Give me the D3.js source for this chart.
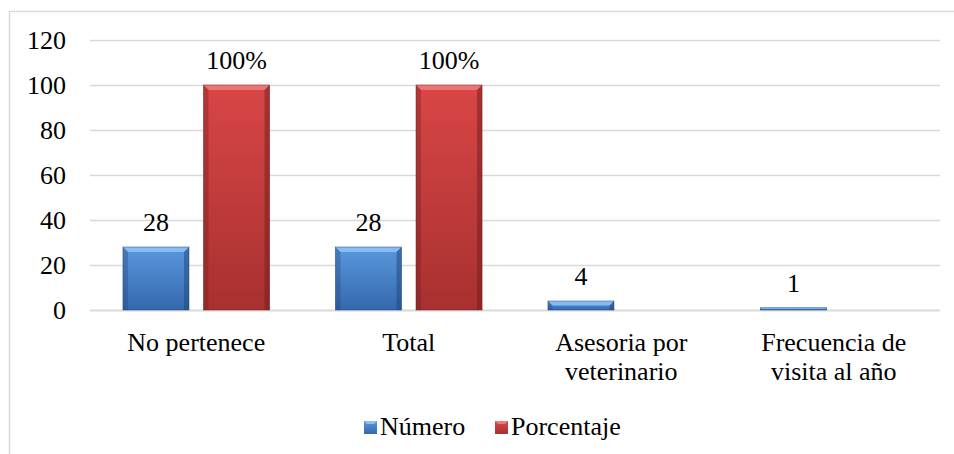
<!DOCTYPE html>
<html>
<head>
<meta charset="UTF-8">
<script src="https://d3js.org/d3.v7.min.js"></script>
</head>
<body style="margin:0">
<svg id="chart" width="954" height="454"></svg>
<script>
// data
var categories = [["No pertenece"], ["Total"], ["Asesoria por", "veterinario"], ["Frecuencia de", "visita al año"]];
var numero = [28, 28, 4, 1];
var porcentaje = [100, 100, null, null];
var seriesNames = ["Número", "Porcentaje"];
var yTicks = [0, 20, 40, 60, 80, 100, 120];

var FS = 26;

var svg = d3.select("#chart").style("font-family", "'Liberation Serif', Tinos, FreeSerif, serif");
var margin = {left: 90, right: 14, top: 40, bottom: 144};
var W = 954, H = 454;

var x = d3.scaleBand().domain(d3.range(categories.length))
  .range([margin.left, W - margin.right]).paddingInner(0.31).paddingOuter(0.155);
var xs = d3.scaleBand().domain([0, 1]).range([0, x.bandwidth()]).paddingInner(0.18);
var y = d3.scaleLinear().domain([0, 120]).range([H - margin.bottom, margin.top]);

function txt(sel){
  sel.style("font-family", "'Liberation Serif'").attr("font-size", FS);
}

// outer frame (runs off the right and bottom of the picture)
svg.append("rect").attr("x", 9.5).attr("y", 11.5).attr("width", 1000).attr("height", 500)
  .attr("fill", "none").attr("stroke", "#d9d9d9").attr("stroke-width", 1.5);

// gradients
var defs = svg.append("defs");
var cols = [
  {id: "gBlue", top: "#5b98de", bot: "#3468ad", light: "#8cc0f5", dark: "#1f4577"},
  {id: "gRed", top: "#d94646", bot: "#a83030", light: "#ec7a78", dark: "#6e1d1d"}
];
cols.forEach(function(c){
  var g = defs.append("linearGradient").attr("id", c.id).attr("x1", 0).attr("y1", 0).attr("x2", 0).attr("y2", 1);
  g.append("stop").attr("offset", "0%").attr("stop-color", c.top);
  g.append("stop").attr("offset", "100%").attr("stop-color", c.bot);
});

// gridlines
svg.append("g").selectAll("line").data(yTicks).enter().append("line")
  .attr("x1", margin.left).attr("x2", W - margin.right)
  .attr("y1", function(d){ return Math.round(y(d)) + 0.5; })
  .attr("y2", function(d){ return Math.round(y(d)) + 0.5; })
  .attr("stroke", "#d9d9d9").attr("stroke-width", function(d){ return d === 0 ? 2 : 1.3; });

// y tick labels
svg.append("g").selectAll("text").data(yTicks).enter().append("text")
  .attr("x", 66).attr("y", function(d){ return y(d); })
  .attr("dy", "0.35em").attr("text-anchor", "end")
  .call(txt)
  .text(function(d){ return d; });

// bars
function drawBar(g, x0, w, v, c){
  var y0 = y(0), y1 = y(v), h = y0 - y1;
  g.append("rect").attr("x", x0).attr("y", y1).attr("width", w).attr("height", h)
    .attr("fill", "url(#" + c.id + ")");
  var b = Math.min(5, h / 2);
  // top bevel
  g.append("polygon").attr("points", [[x0, y1], [x0 + w, y1], [x0 + w - b, y1 + b], [x0 + b, y1 + b]].join(" "))
    .attr("fill", c.light).attr("opacity", 0.9);
  // side bevels
  g.append("polygon").attr("points", [[x0, y1], [x0 + b, y1 + b], [x0 + b, y0], [x0, y0]].join(" "))
    .attr("fill", c.dark).attr("opacity", 0.35);
  g.append("polygon").attr("points", [[x0 + w, y1], [x0 + w - b, y1 + b], [x0 + w - b, y0], [x0 + w, y0]].join(" "))
    .attr("fill", c.dark).attr("opacity", 0.5);
  g.append("rect").attr("x", x0).attr("y", y1).attr("width", w).attr("height", h)
    .attr("fill", "none").attr("stroke", c.dark).attr("stroke-width", 0.8).attr("opacity", 0.6);
}

var barsG = svg.append("g");
[numero, porcentaje].forEach(function(series, si){
  series.forEach(function(v, i){
    if (v == null) return;
    var x0 = x(i) + xs(si), w = xs.bandwidth();
    drawBar(barsG, x0, w, v, cols[si]);
    svg.append("text").attr("x", x0 + w / 2).attr("y", y(v) - 16)
      .attr("text-anchor", "middle").call(txt)
      .text(si === 1 ? v + "%" : v);
  });
});

// category labels
var catG = svg.append("g");
categories.forEach(function(lines, i){
  var t = catG.append("text").attr("x", x(i) + x.bandwidth() / 2).attr("y", 351)
    .attr("text-anchor", "middle").call(txt);
  lines.forEach(function(l, j){
    t.append("tspan").attr("x", x(i) + x.bandwidth() / 2).attr("dy", j === 0 ? 0 : 29).text(l);
  });
});

// legend
var legX = [364, 495];
seriesNames.forEach(function(name, si){
  var g = svg.append("g");
  var c = cols[si];
  g.append("rect").attr("x", legX[si]).attr("y", 421).attr("width", 13).attr("height", 13)
    .attr("fill", "url(#" + c.id + ")");
  g.append("polygon").attr("points", [[legX[si], 421], [legX[si] + 13, 421], [legX[si] + 10, 424], [legX[si] + 3, 424]].join(" "))
    .attr("fill", c.light);
  g.append("text").attr("x", legX[si] + 16).attr("y", 435).call(txt).text(name);
});
</script>
</body>
</html>
